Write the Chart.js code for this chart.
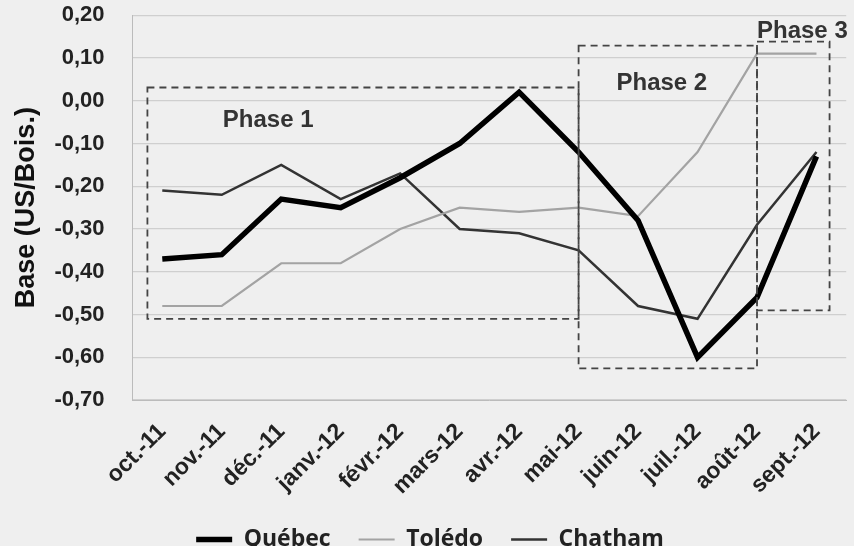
<!DOCTYPE html>
<html><head><meta charset="utf-8">
<script src="https://cdn.jsdelivr.net/npm/chart.js@4"></script>
<style>html,body{margin:0;padding:0;background:#efefef;}#wrap{width:854px;height:546px;}</style>
</head><body><div id="wrap"><canvas id="c" width="854" height="546"></canvas></div>
<script>
const categories = ['oct.-11','nov.-11','déc.-11','janv.-12','févr.-12','mars-12','avr.-12','mai-12','juin-12','juil.-12','août-12','sept.-12'];
const quebec  = [-0.37,-0.36,-0.23,-0.25,-0.18,-0.10,0.02,-0.12,-0.28,-0.60,-0.46,-0.13];
const toledo  = [-0.48,-0.48,-0.38,-0.38,-0.30,-0.25,-0.26,-0.25,-0.27,-0.12,0.11,0.11];
const chatham = [-0.21,-0.22,-0.15,-0.23,-0.17,-0.30,-0.31,-0.35,-0.48,-0.51,-0.29,-0.12];
const yTicks = [0.2,0.1,0,-0.1,-0.2,-0.3,-0.4,-0.5,-0.6,-0.7];
const seriesNames = ['Québec','Tolédo','Chatham'];
const phaseNames = ['Phase 1','Phase 2','Phase 3'];

// phase boxes in data units: [xStartIndex, xEndIndex, yTop, yBottom, labelIndex, labelValue, align]
const phaseBoxes = [
  [-0.25, 7.0, 0.031, -0.51, 1.78, -0.045, 'center'],
  [7.0, 10.0, 0.129, -0.626, 8.4, 0.04, 'center'],
  [10.0, 11.22, 0.138, -0.49, 10.0, 0.163, 'left']
];

const phasePlugin = {
  id: 'phases',
  afterDatasetsDraw(chart) {
    const {ctx, scales:{x, y}} = chart;
    ctx.save();
    ctx.strokeStyle = '#444';
    ctx.lineWidth = 1.8;
    ctx.setLineDash([7,5]);
    phaseBoxes.forEach((b) => {
      const x0 = x.getPixelForValue(b[0]), x1 = x.getPixelForValue(b[1]);
      const y0 = y.getPixelForValue(b[2]), y1 = y.getPixelForValue(b[3]);
      ctx.strokeRect(x0, y0, x1 - x0, y1 - y0);
    });
    ctx.setLineDash([]);
    ctx.fillStyle = '#333';
    ctx.font = 'bold 24px "Liberation Sans", Arial, sans-serif';
    ctx.textBaseline = 'middle';
    phaseBoxes.forEach((b, i) => {
      ctx.textAlign = b[6];
      ctx.fillText(phaseNames[i], x.getPixelForValue(b[4]), y.getPixelForValue(b[5]));
    });
    ctx.restore();
  }
};

const bg = {
  id: 'bg',
  beforeDraw(chart) {
    const ctx = chart.ctx;
    ctx.save(); ctx.fillStyle = '#efefef'; ctx.fillRect(0,0,chart.width,chart.height); ctx.restore();
  }
};

new Chart(document.getElementById('c'), {
  type: 'line',
  data: {
    labels: categories,
    datasets: [
      {label: seriesNames[0], data: quebec, borderColor:'#000', backgroundColor:'#000', borderWidth:5.5, pointRadius:0, tension:0},
      {label: seriesNames[1], data: toledo, borderColor:'#a3a3a3', backgroundColor:'#a3a3a3', borderWidth:2.2, pointRadius:0, tension:0},
      {label: seriesNames[2], data: chatham, borderColor:'#333', backgroundColor:'#333', borderWidth:2.5, pointRadius:0, tension:0}
    ]
  },
  options: {
    responsive: false,
    animation: false,
    layout: {padding: {left: 6, right: 0, top: 8, bottom: -15}},
    plugins: {
      legend: {
        position: 'bottom',
        labels: {
          usePointStyle: true,
          pointStyle: 'line',
          pointStyleWidth: 36,
          boxWidth: 36,
          color: '#222',
          font: {family: '"Open Sans", sans-serif', size: 23, weight: 'bold'},
          padding: 28,
          generateLabels(chart) {
            return chart.data.datasets.map((d, i) => ({
              text: d.label,
              strokeStyle: d.borderColor, fillStyle: d.borderColor, lineWidth: d.borderWidth,
              pointStyle: 'line', datasetIndex: i, fontColor: '#222'
            }));
          }
        }
      },
      tooltip: {enabled: false}
    },
    scales: {
      x: {
        offset: true,
        grid: {display: false, drawTicks: false},
        border: {display: true, color: '#bbb'},
        afterFit(scale) { scale.height -= 18; },
        ticks: {
          color: '#222', minRotation: 45, maxRotation: 45, padding: 18,
          font: {family: '"Liberation Sans", Arial, sans-serif', size: 23, weight: 'bold'}
        }
      },
      y: {
        min: -0.7, max: 0.2,
        afterBuildTicks(axis) { axis.ticks = yTicks.map(v => ({value: v})); },
        grid: {color: '#cfcfcf', lineWidth: 1.2, drawTicks: true, tickLength: 26, tickColor: 'rgba(0,0,0,0)'},
        border: {display: true, color: '#bbb'},
        ticks: {
          color: '#222', padding: 2,
          font: {family: '"Liberation Sans", Arial, sans-serif', size: 22, weight: 'bold'},
          callback: (v) => Number(v).toFixed(2).replace('.', ',')
        },
        title: {
          display: true, text: 'Base (US/Bois.)', color: '#111', padding: {top: 4, bottom: 10},
          font: {family: '"Liberation Sans", Arial, sans-serif', size: 27, weight: 'bold'}
        }
      }
    }
  },
  plugins: [bg, phasePlugin]
});
</script></body></html>
